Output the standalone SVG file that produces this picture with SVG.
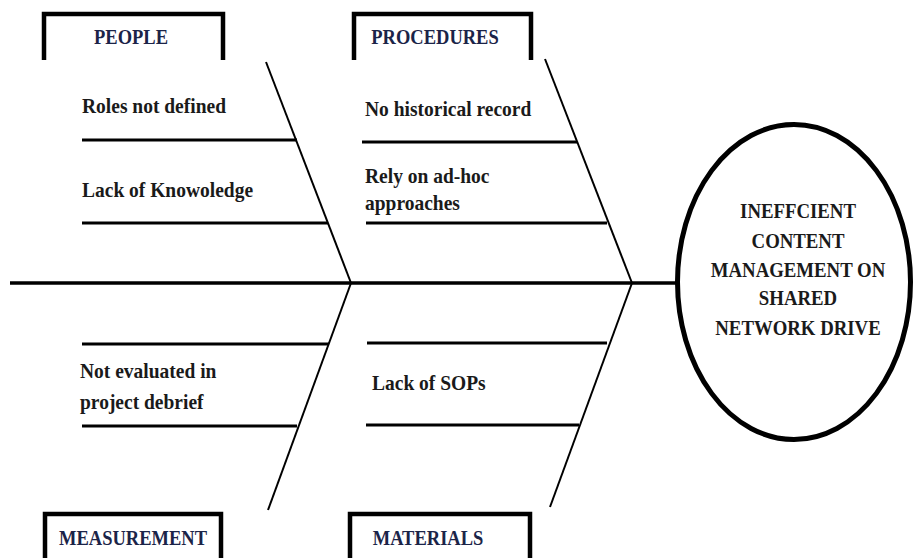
<svg xmlns="http://www.w3.org/2000/svg" width="915" height="558" viewBox="0 0 915 558">
<style>
  .bone { stroke: #000; stroke-width: 2; fill: none; }
  .rib { stroke: #000; stroke-width: 3.2; fill: none; }
  .spine { stroke: #000; stroke-width: 3.5; fill: none; }
  .box { fill: none; stroke: #000; stroke-width: 4.5; }
  .cat { font-family: "Liberation Serif", "Times New Roman", serif; font-weight: bold; font-size: 18.5px; fill: #1b2448; text-anchor: middle; }
  .lbl { font-family: "Liberation Serif", "Times New Roman", serif; font-weight: bold; font-size: 19.5px; fill: #1a1a1a; }
  .eff { font-family: "Liberation Serif", "Times New Roman", serif; font-weight: bold; font-size: 18.8px; fill: #1a1a1a; text-anchor: middle; }
</style>
<rect width="915" height="558" fill="#fff"/>
<g id="connectors">
  <line class="spine" x1="10" y1="283" x2="676" y2="283"/>
  <line class="bone" x1="266" y1="62" x2="351" y2="283"/>
  <line class="bone" x1="351" y1="283" x2="268" y2="510"/>
  <line class="bone" x1="545" y1="59" x2="632" y2="283"/>
  <line class="bone" x1="632" y1="283" x2="550" y2="507"/>
  <line class="rib" x1="82" y1="140" x2="297" y2="140"/>
  <line class="rib" x1="82" y1="223" x2="328" y2="223"/>
  <line class="rib" x1="362" y1="142" x2="577" y2="142"/>
  <line class="rib" x1="366" y1="223" x2="607" y2="223"/>
  <line class="rib" x1="82" y1="344" x2="329" y2="344"/>
  <line class="rib" x1="82" y1="426" x2="297" y2="426"/>
  <line class="rib" x1="367" y1="343" x2="607" y2="343"/>
  <line class="rib" x1="366" y1="425" x2="579" y2="425"/>
</g>
<g id="people">
  <path class="box" d="M44,60 V14 H223 V60"/>
  <text class="cat" transform="translate(131,44) scale(1,1.1)">PEOPLE</text>
</g>
<g id="procedures">
  <path class="box" d="M354,60 V14 H531 V60"/>
  <text class="cat" transform="translate(435,44) scale(1,1.1)">PROCEDURES</text>
</g>
<g id="measurement">
  <path class="box" d="M45,560 V514 H221 V560"/>
  <text class="cat" transform="translate(133,545) scale(1,1.1)">MEASUREMENT</text>
</g>
<g id="materials">
  <path class="box" d="M350,560 V514 H530 V560"/>
  <text class="cat" transform="translate(428,545) scale(1,1.1)">MATERIALS</text>
</g>
<g id="causes">
  <text class="lbl" transform="translate(82,113) scale(1,1.12)">Roles not defined</text>
  <text class="lbl" transform="translate(82,197) scale(1,1.12)">Lack of Knowoledge</text>
  <text class="lbl" transform="translate(365,116) scale(1,1.12)">No historical record</text>
  <text class="lbl" transform="translate(365,183) scale(1,1.12)">Rely on ad-hoc</text>
  <text class="lbl" transform="translate(365,210) scale(1,1.12)">approaches</text>
  <text class="lbl" transform="translate(80,378) scale(1,1.12)">Not evaluated in</text>
  <text class="lbl" transform="translate(80,409) scale(1,1.12)">project debrief</text>
  <text class="lbl" transform="translate(372,390) scale(1,1.12)">Lack of SOPs</text>
</g>
<g id="effect">
  <ellipse cx="794" cy="282" rx="116.5" ry="157.5" fill="#fff" stroke="#000" stroke-width="5"/>
  <text class="eff" transform="translate(798,218) scale(1,1.08)">INEFFCIENT</text>
  <text class="eff" transform="translate(798,248) scale(1,1.08)">CONTENT</text>
  <text class="eff" transform="translate(798,277) scale(1,1.08)">MANAGEMENT ON</text>
  <text class="eff" transform="translate(798,305) scale(1,1.08)">SHARED</text>
  <text class="eff" transform="translate(798,335) scale(1,1.08)">NETWORK DRIVE</text>
</g>
</svg>
